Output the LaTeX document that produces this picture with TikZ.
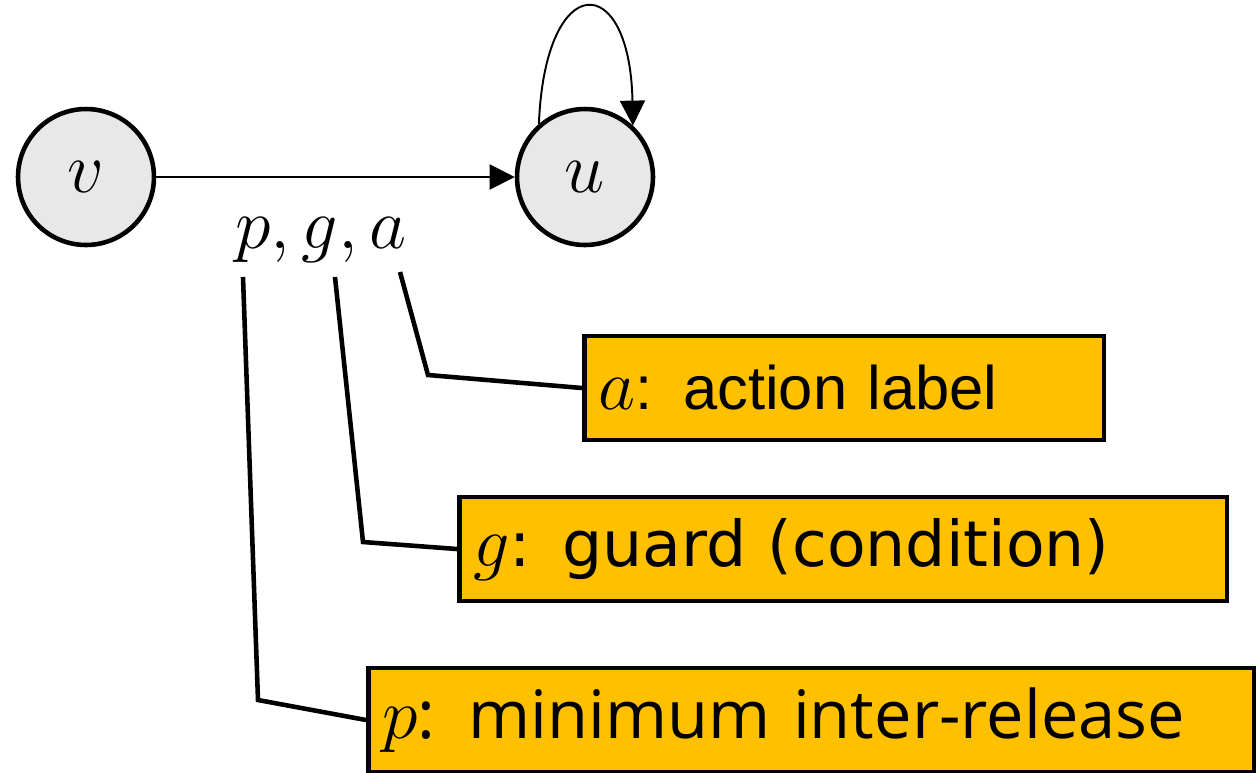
\documentclass[tikz,border=0pt]{standalone}
\usepackage{fix-cm}
\usepackage{fontspec}
\usetikzlibrary{arrows.meta}
\newfontfamily\arialfont{Liberation Sans}
\newfontfamily\verdfont{DejaVu Sans}
\newfontfamily\segfont{Open Sans}
\definecolor{boxorange}{HTML}{FFC000}
\definecolor{stategray}{HTML}{E8E8E8}
\newcommand{\bigsym}[1]{{\fontsize{41}{46}\selectfont$#1$}}

\begin{document}
\begin{tikzpicture}[x=0.02cm,y=-0.02cm,
  state/.style={circle,draw,line width=2.6pt,fill=stategray,minimum size=2.72cm,
    inner sep=0pt,font=\fontsize{41}{45}\selectfont},
  infobox/.style={draw,line width=2.6pt,fill=boxorange,anchor=west,align=left,
    minimum height=2.08cm,inner xsep=0.28cm,inner ysep=0pt},
  leader/.style={line width=2.6pt},
  trans/.style={line width=1.1pt,-{Triangle[length=0.5cm,width=0.5cm]}}]
  \useasboundingbox (0,0) rectangle (1257,772);
  % states
  \node[state] (v) at (86,177) {$v$};
  \node[state] (u) at (585,177) {$u$};
  \draw[trans] (v) -- (u);
  \draw[trans] (u.131) .. controls (545,-31) and (630,-31) .. (u.47);
  % edge label
  \node[font=\fontsize{41}{45}\selectfont,anchor=base] (lbl) at (321,248) {$p,g,a$};
  \coordinate (aTop) at (400,272);
  \coordinate (aBend) at (428,375);
  \coordinate (gTop) at (335,277);
  \coordinate (gBend) at (363,542);
  \coordinate (pTop) at (243,277);
  \coordinate (pBend) at (258,700);
  % explanations
  \node[infobox,text width=9.84cm,font=\arialfont\fontsize{35}{40}\selectfont]
    (abox) at (582,388) {\bigsym{a}: action label};
  \node[infobox,text width=14.8cm,font=\verdfont\fontsize{36}{41}\selectfont]
    (gbox) at (457,549) {\bigsym{g}: guard (condition)};
  \node[infobox,text width=17.16cm,font=\segfont\fontsize{38}{43}\selectfont]
    (pbox) at (366,720) {\bigsym{p}: minimum inter-release};
  \draw[leader] (aTop) -- (aBend) -- (abox.west);
  \draw[leader] (gTop) -- (gBend) -- (gbox.west);
  \draw[leader] (pTop) -- (pBend) -- (pbox.west);
\end{tikzpicture}
\end{document}
